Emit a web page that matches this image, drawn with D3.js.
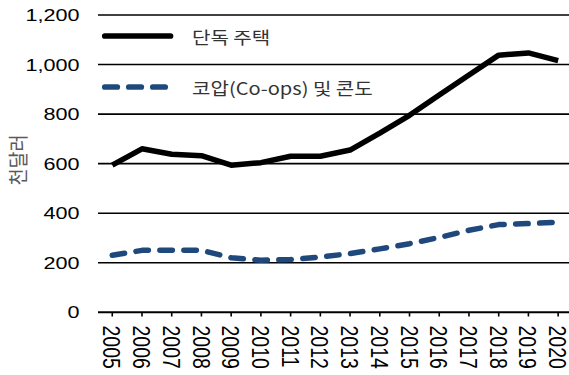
<!DOCTYPE html>
<html>
<head>
<meta charset="utf-8">
<script src="https://cdn.jsdelivr.net/npm/d3@7"></script>
<style>
  html, body { margin: 0; padding: 0; background: #fff; }
  svg { display: block; }
</style>
</head>
<body>
<svg id="chart" width="569" height="375"></svg>
<script>
// Housing values, thousand dollars
const years = ["2005","2006","2007","2008","2009","2010","2011","2012","2013","2014","2015","2016","2017","2018","2019","2020"];
const singleFamily = [594, 660, 638, 632, 594, 604, 630, 630, 655, 723, 795, 877, 958, 1038, 1047, 1016];
const coopsCondos = [230, 250, 250, 250, 220, 210, 213, 223, 237, 256, 277, 302, 331, 354, 358, 364];
const yTicks = [0, 200, 400, 600, 800, 1000, 1200];
const seriesNames = ["단독 주택", "코압(Co-ops) 및 콘도"];
const yTitle = "천달러";

const svg = d3.select("#chart");
const W = 569;
const stretch = 1.27;

const x = d3.scaleBand().domain(years).range([97.4, 573]);
const y = d3.scaleLinear().domain([0, 1200]).range([312.3, 15]);

// Horizontal gridlines
svg.append("g").selectAll("line").data(yTicks).join("line")
  .attr("x1", 98).attr("x2", W)
  .attr("y1", d => y(d)).attr("y2", d => y(d))
  .attr("stroke", "#000").attr("stroke-width", d => d === 0 ? 2 : 1.6);

// Y tick labels
svg.append("g").selectAll("text").data(yTicks).join("text")
  .attr("transform", d => `translate(79.5,${y(d)}) scale(${stretch},1)`)
  .attr("text-anchor", "end").attr("dy", "0.36em")
  .attr("font-family", "Liberation Sans, Arial, sans-serif")
  .attr("font-size", 17).attr("fill", "#000")
  .text(d => d3.format(",")(d));

// X ticks and rotated labels
const xg = svg.append("g");
xg.selectAll("line").data(years).join("line")
  .attr("x1", d => x(d) + x.bandwidth() / 2).attr("x2", d => x(d) + x.bandwidth() / 2)
  .attr("y1", 312).attr("y2", 316.5)
  .attr("stroke", "#000").attr("stroke-width", 1.6);
xg.selectAll("text").data(years).join("text")
  .attr("transform", d => `translate(${x(d) + x.bandwidth() / 2},325.5) scale(${stretch},1) rotate(90)`)
  .attr("text-anchor", "start").attr("dy", "0.36em")
  .attr("font-family", "Liberation Sans, Arial, sans-serif")
  .attr("font-size", 19.5).attr("fill", "#000")
  .text(d => d);

// Y axis title
svg.append("text")
  .attr("transform", "translate(19,160) scale(1.1,1) rotate(-90)")
  .attr("text-anchor", "middle").attr("dy", "0.36em")
  .attr("font-family", "Noto Sans CJK KR, sans-serif")
  .attr("font-size", 18.5).attr("fill", "#595959")
  .text(yTitle);

// Series lines
const line = d3.line()
  .x((d, i) => x(years[i]) + x.bandwidth() / 2)
  .y(d => y(d));

svg.append("path").datum(coopsCondos)
  .attr("d", line).attr("fill", "none")
  .attr("stroke", "#1F497D").attr("stroke-width", 5.5)
  .attr("stroke-linecap", "round").attr("stroke-linejoin", "round")
  .attr("stroke-dasharray", "12.5,11.5");

svg.append("path").datum(singleFamily)
  .attr("d", line).attr("fill", "none")
  .attr("stroke", "#000").attr("stroke-width", 5.5)
  .attr("stroke-linejoin", "round");

// Legend
const legend = [
  { name: seriesNames[0], color: "#000", dash: null, y: 36 },
  { name: seriesNames[1], color: "#1F497D", dash: "12.5,11.5", y: 87 }
];
const lg = svg.append("g");
lg.selectAll("line").data(legend).join("line")
  .attr("x1", 104.8).attr("x2", d => d.dash ? 165.2 : 170.5)
  .attr("y1", d => d.y).attr("y2", d => d.y)
  .attr("stroke", d => d.color).attr("stroke-width", 5.7)
  .attr("stroke-linecap", "round")
  .attr("stroke-dasharray", d => d.dash);
lg.selectAll("text").data(legend).join("text")
  .attr("transform", d => `translate(192,${d.y + 2}) scale(1.18,1)`)
  .attr("dy", "0.36em")
  .attr("font-family", "Noto Sans CJK KR, sans-serif")
  .attr("font-size", 17).attr("fill", "#333")
  .text(d => d.name);
</script>
</body>
</html>
